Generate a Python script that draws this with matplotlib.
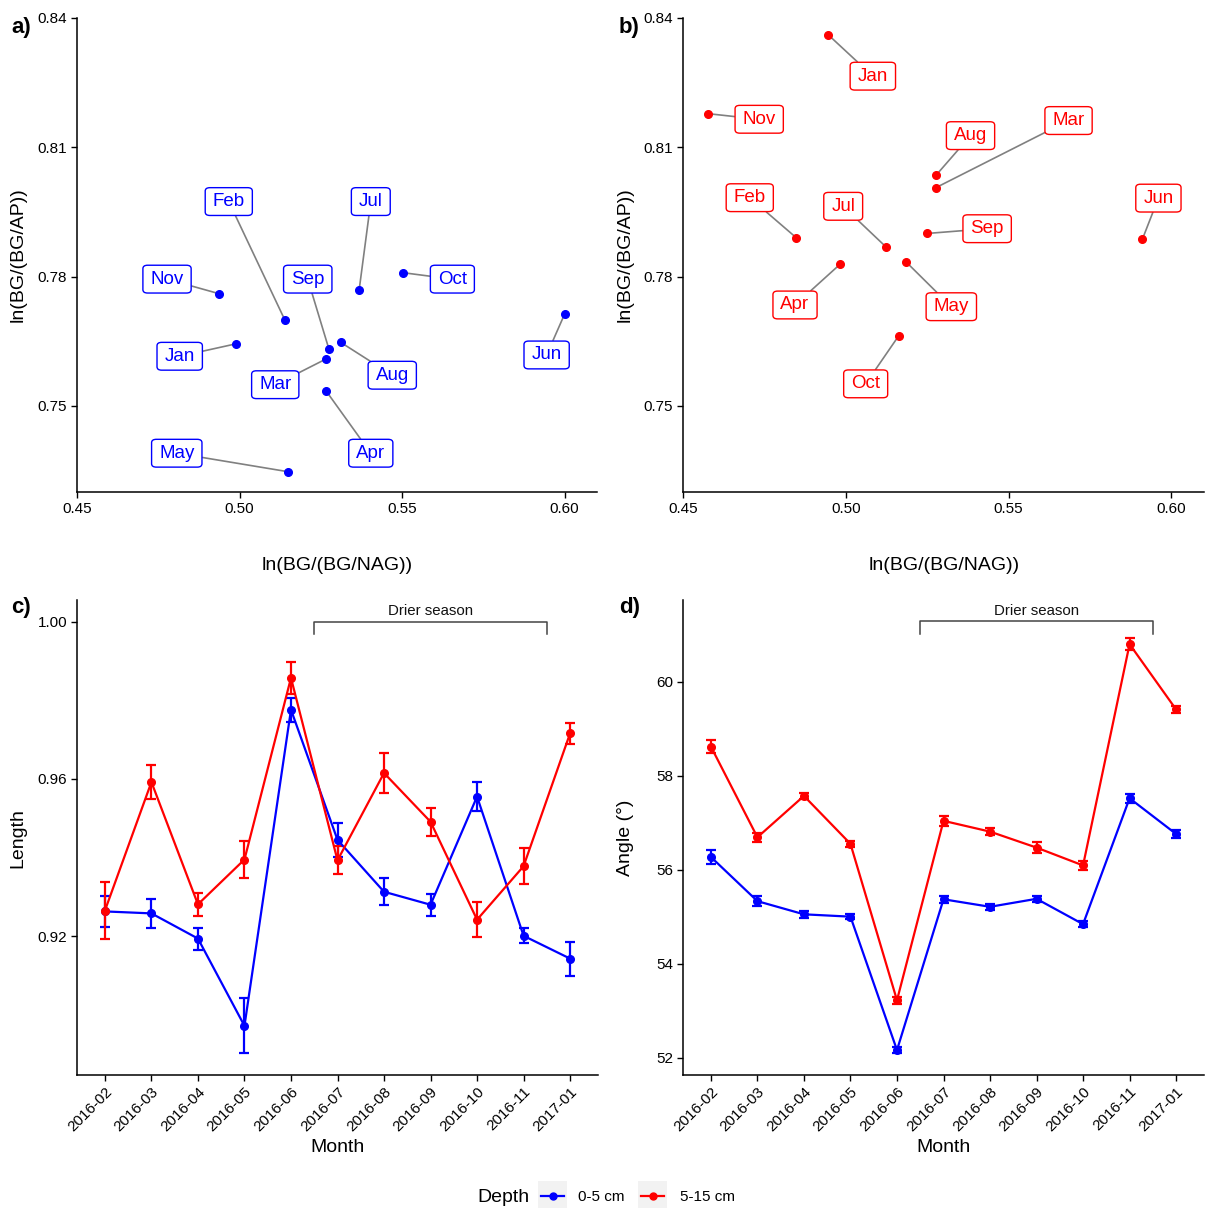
import matplotlib
matplotlib.use("Agg")
import matplotlib.pyplot as plt
from matplotlib.patches import Rectangle
from matplotlib.lines import Line2D

plt.rcParams['font.family'] = ['Liberation Sans', 'DejaVu Sans']

# ---------------- data ----------------
month_names = ['Jan', 'Feb', 'Mar', 'Apr', 'May', 'Jun', 'Jul', 'Aug', 'Sep', 'Oct', 'Nov']

# panel a (0-5 cm)
a_bg_nag = [0.4990, 0.5139, 0.5267, 0.5266, 0.5150, 0.6001, 0.5368, 0.5312, 0.5275, 0.5503, 0.4938]
a_bg_ap = [0.7644, 0.7700, 0.7609, 0.7535, 0.7347, 0.7714, 0.7768, 0.7647, 0.7632, 0.7809, 0.7760]
# panel b (5-15 cm)
b_bg_nag = [0.4946, 0.4848, 0.5276, 0.4983, 0.5185, 0.5911, 0.5123, 0.5277, 0.5250, 0.5162, 0.4577]
b_bg_ap = [0.8361, 0.7890, 0.8006, 0.7829, 0.7834, 0.7887, 0.7869, 0.8035, 0.7900, 0.7662, 0.8178]

# repelled label positions (layout)
a_lab_x = [0.4816, 0.4967, 0.5110, 0.5404, 0.4807, 0.5945, 0.5404, 0.5470, 0.5210, 0.5655, 0.4777]
a_lab_y = [0.7615, 0.7974, 0.7549, 0.7390, 0.7390, 0.7618, 0.7974, 0.7571, 0.7794, 0.7794, 0.7794]
b_lab_x = [0.5083, 0.4705, 0.5684, 0.4844, 0.5324, 0.5960, 0.4992, 0.5383, 0.5434, 0.5061, 0.4734]
b_lab_y = [0.8265, 0.7983, 0.8162, 0.7734, 0.7730, 0.7982, 0.7963, 0.8127, 0.7911, 0.7551, 0.8165]

months = ['2016-02', '2016-03', '2016-04', '2016-05', '2016-06', '2016-07',
          '2016-08', '2016-09', '2016-10', '2016-11', '2017-01']

len_0_5 = [0.9263, 0.9258, 0.9194, 0.8972, 0.9776, 0.9445, 0.9313, 0.9280, 0.9555, 0.9201, 0.9143]
len_0_5_se = [0.0039, 0.0036, 0.0028, 0.0070, 0.0031, 0.0043, 0.0034, 0.0028, 0.0037, 0.0019, 0.0043]
len_5_15 = [0.9265, 0.9592, 0.9281, 0.9395, 0.9857, 0.9393, 0.9615, 0.9491, 0.9242, 0.9378, 0.9716]
len_5_15_se = [0.0072, 0.0044, 0.0030, 0.0046, 0.0040, 0.0036, 0.0050, 0.0036, 0.0044, 0.0046, 0.0027]

ang_0_5 = [56.27, 55.33, 55.05, 55.00, 52.16, 55.37, 55.21, 55.38, 54.84, 57.52, 56.76]
ang_0_5_se = [0.14, 0.11, 0.08, 0.06, 0.07, 0.08, 0.07, 0.06, 0.06, 0.10, 0.08]
ang_5_15 = [58.62, 56.69, 57.57, 56.55, 53.22, 57.04, 56.81, 56.47, 56.09, 60.80, 59.41]
ang_5_15_se = [0.14, 0.10, 0.06, 0.06, 0.08, 0.11, 0.08, 0.12, 0.10, 0.13, 0.08]

depth_labels = ['0-5 cm', '5-15 cm']
BLUE = '#0000FF'
RED = '#FF0000'

W, H = 1207, 1208
fig = plt.figure(figsize=(W / 100, H / 100), dpi=100)


def rect(l, t, r, b):
    return [l / W, 1 - b / H, (r - l) / W, (b - t) / H]


def style(ax):
    for s in ['top', 'right']:
        ax.spines[s].set_visible(False)
    for s in ['left', 'bottom']:
        ax.spines[s].set_linewidth(1.1)
    ax.tick_params(axis='both', which='major', length=4, width=1.0,
                   labelsize=11, colors='black', pad=3)


def ptext(x, y, s, **kw):
    fig.text(x / W, 1 - y / H, s, **kw)


# ---------------- panels a, b ----------------
def scatter_panel(ax, xs, ys, lx, ly, color):
    style(ax)
    ax.set_xlim(0.45, 0.61)
    ax.set_ylim(0.73, 0.84)
    ax.set_xticks([0.45, 0.50, 0.55, 0.60])
    ax.set_xticklabels(['0.45', '0.50', '0.55', '0.60'])
    ax.set_yticks([0.75, 0.78, 0.81, 0.84])
    ax.set_yticklabels(['0.75', '0.78', '0.81', '0.84'])
    for name, x, y, tx, ty in zip(month_names, xs, ys, lx, ly):
        ax.annotate(name, xy=(x, y), xytext=(tx, ty), textcoords='data',
                    ha='center', va='center', fontsize=13.5, color=color,
                    bbox=dict(boxstyle='round,pad=0.4,rounding_size=0.25',
                              mutation_aspect=0.72,
                              fc='white', ec=color, lw=1.0),
                    arrowprops=dict(arrowstyle='-', color='#808080', lw=1.2,
                                    shrinkA=0, shrinkB=0),
                    zorder=3)
    ax.plot(xs, ys, 'o', color=color, markersize=5.5, zorder=4, linestyle='none')


ax_a = fig.add_axes(rect(77, 18, 597, 492))
scatter_panel(ax_a, a_bg_nag, a_bg_ap, a_lab_x, a_lab_y, BLUE)
ax_b = fig.add_axes(rect(683, 18, 1204, 492))
scatter_panel(ax_b, b_bg_nag, b_bg_ap, b_lab_x, b_lab_y, RED)

# ---------------- panels c, d ----------------
def line_panel(ax, s1, e1, s2, e2, ylim, yticks, yticklabels, bracket):
    style(ax)
    xs = list(range(len(months)))
    for vals, errs, col in [(s1, e1, BLUE), (s2, e2, RED)]:
        ax.errorbar(xs, vals, yerr=errs, color=col, lw=1.6, marker='o',
                    markersize=5.5, capsize=3.5, capthick=1.6, elinewidth=1.6)
    ax.set_xlim(-0.6, len(months) - 0.4)
    ax.set_ylim(*ylim)
    ax.set_yticks(yticks)
    ax.set_yticklabels(yticklabels)
    ax.set_xticks(xs)
    ax.set_xticklabels(months, rotation=45, ha='right', rotation_mode='anchor')
    top, low, ty = bracket
    ax.plot([4.5, 4.5, 9.5, 9.5], [low, top, top, low], color='#444444', lw=1.1)
    ax.text(7.0, ty, 'Drier season', ha='center', va='center', fontsize=10.8,
            color='#111111')


ax_c = fig.add_axes(rect(77, 600, 598, 1075))
line_panel(ax_c, len_0_5, len_0_5_se, len_5_15, len_5_15_se,
           (0.8847, 1.0055), [0.92, 0.96, 1.00], ['0.92', '0.96', '1.00'],
           (1.000, 0.9968, 1.0027))
ax_d = fig.add_axes(rect(683, 600, 1204, 1075))
line_panel(ax_d, ang_0_5, ang_0_5_se, ang_5_15, ang_5_15_se,
           (51.63, 61.74), [52, 54, 56, 58, 60], ['52', '54', '56', '58', '60'],
           (61.29, 61.02, 61.50))

# ---------------- titles ----------------
ptext(337, 565, 'ln(BG/(BG/NAG))', ha='center', va='center', fontsize=14)
ptext(944, 565, 'ln(BG/(BG/NAG))', ha='center', va='center', fontsize=14)
ptext(18, 255, 'ln(BG/(BG/AP))', ha='center', va='center', fontsize=14, rotation=90)
ptext(625, 255, 'ln(BG/(BG/AP))', ha='center', va='center', fontsize=14, rotation=90)
ptext(18, 838, 'Length', ha='center', va='center', fontsize=14, rotation=90)
ptext(625, 838, 'Angle (°)', ha='center', va='center', fontsize=14, rotation=90)
ptext(337, 1148, 'Month', ha='center', va='center', fontsize=14)
ptext(944, 1148, 'Month', ha='center', va='center', fontsize=14)

for tag, x, y in [('a)', 11, 27), ('b)', 619, 27), ('c)', 11, 608), ('d)', 619, 608)]:
    ptext(x, y, tag, ha='left', va='center', fontsize=16, fontweight='bold')

# ---------------- legend ----------------
lg = fig.add_axes([0, 0, 1, 1], facecolor='none')
lg.set_xlim(0, W)
lg.set_ylim(H, 0)
lg.axis('off')
lg.text(477, 1197, 'Depth', ha='left', va='center', fontsize=14)
for (kx, tx), col, lab in zip([(538, 578), (638, 680)], [BLUE, RED], depth_labels):
    lg.add_patch(Rectangle((kx, 1181), 29, 29, facecolor='#F2F2F2', edgecolor='none'))
    lg.add_line(Line2D([kx + 3, kx + 26], [1196, 1196], color=col, lw=1.6))
    lg.plot([kx + 14.5], [1196], 'o', color=col, markersize=5)
    lg.text(tx, 1197, lab, ha='left', va='center', fontsize=11)

fig.savefig('out.png', dpi=100)
